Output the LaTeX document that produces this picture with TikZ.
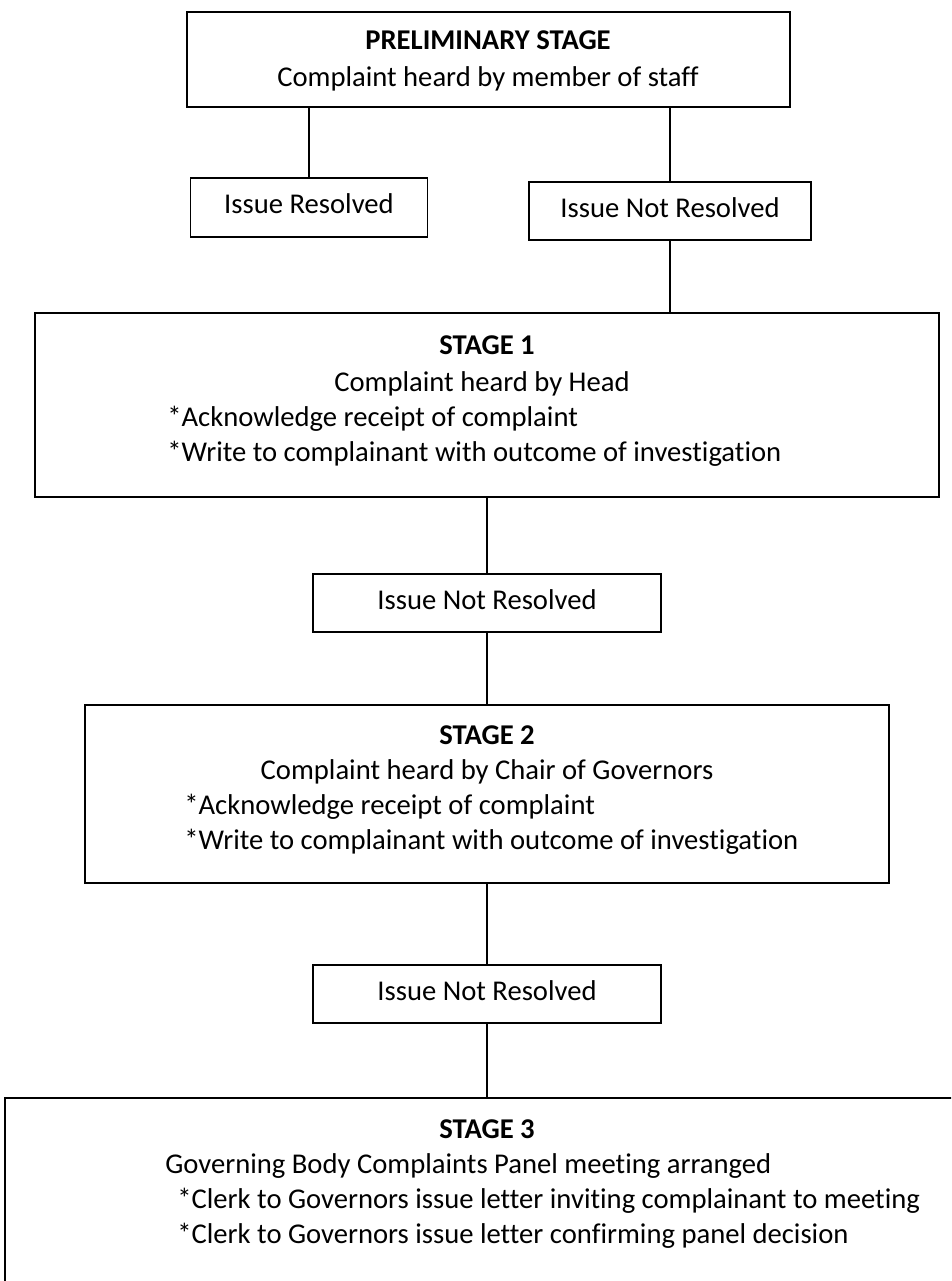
\documentclass[tikz,border=0pt]{standalone}
\usepackage{fontspec}
\setmainfont{Carlito}[Ligatures=NoCommon]
\usetikzlibrary{positioning}

\newlength{\pxu}
\setlength{\pxu}{0.02cm}

\tikzset{
  box/.style={draw, line width=1pt, inner sep=0pt},
  txt/.style={inner sep=0pt, text height=0.9em, text depth=0.2em,
    font=\fontsize{16.3}{19.5}\selectfont},
  head/.style={txt, font=\fontsize{16.3}{19.5}\selectfont\bfseries},
  link/.style={line width=1pt},
}

\begin{document}
\begin{tikzpicture}[x=0.02cm, y=-0.02cm]
   \clip (0,0) rectangle (951,1281);

   % boxes
   \node[box, minimum width=603\pxu, minimum height=95\pxu]  (prelim)   at (488.5,59.5) {};
   \node[box, minimum width=237\pxu, minimum height=59\pxu]  (resolved) at (309,207.5) {};
   \node[box, minimum width=282\pxu, minimum height=58\pxu]  (notres)   at (670,211) {};
   \node[box, minimum width=904\pxu, minimum height=184\pxu] (stagea)   at (487,405) {};
   \node[box, minimum width=348\pxu, minimum height=58\pxu]  (notresa)  at (487,603) {};
   \node[box, minimum width=804\pxu, minimum height=178\pxu] (stageb)   at (487,794) {};
   \node[box, minimum width=348\pxu, minimum height=58\pxu]  (notresb)  at (487,994) {};
   \node[box, minimum width=970\pxu, minimum height=202\pxu] (stagec)   at (490,1199) {};

   % connectors
   \draw[link] (resolved.north) -- (resolved.north |- prelim.south);
   \draw[link] (notres.north) -- (notres.north |- prelim.south);
   \draw[link] (notres.south) -- (notres.south |- stagea.north);
   \draw[link] (notresa.north) -- (notresa.north |- stagea.south);
   \draw[link] (notresa.south) -- (notresa.south |- stageb.north);
   \draw[link] (notresb.north) -- (notresb.north |- stageb.south);
   \draw[link] (notresb.south) -- (notresb.south |- stagec.north);

   % texts
   \node[head] (prelimt) at (488,43) {PRELIMINARY STAGE};
   \node[txt]  (prelimd) at (488,80) {Complaint heard by member of staff};
   \node[txt]  (resolvedt) at (resolved) {Issue Resolved};
   \node[txt]  (notrest)   at (notres) {Issue Not Resolved};

   \node[head] (stageat) at (487,348) {STAGE 1};
   \node[txt]  (stagead) at (482,385) {Complaint heard by Head};
   \node[txt, anchor=west] (stageaa) at (167,420) {*Acknowledge receipt of complaint};
   \node[txt, anchor=west] (stageaw) at (167,455) {*Write to complainant with outcome of investigation};

   \node[txt]  (notresat) at (notresa) {Issue Not Resolved};

   \node[head] (stagebt) at (487,738) {STAGE 2};
   \node[txt]  (stagebd) at (487,773) {Complaint heard by Chair of Governors};
   \node[txt, anchor=west] (stageba) at (184,808) {*Acknowledge receipt of complaint};
   \node[txt, anchor=west] (stagebw) at (184,843) {*Write to complainant with outcome of investigation};

   \node[txt]  (notresbt) at (notresb) {Issue Not Resolved};

   \node[head] (stagect) at (487,1132) {STAGE 3};
   \node[txt, anchor=west] (stagecd) at (165,1167) {Governing Body Complaints Panel meeting arranged};
   \node[txt, anchor=west] (stageci) at (177,1202) {*Clerk to Governors issue letter inviting complainant to meeting};
   \node[txt, anchor=west] (stagecc) at (177,1237) {*Clerk to Governors issue letter confirming panel decision};
\end{tikzpicture}
\end{document}
